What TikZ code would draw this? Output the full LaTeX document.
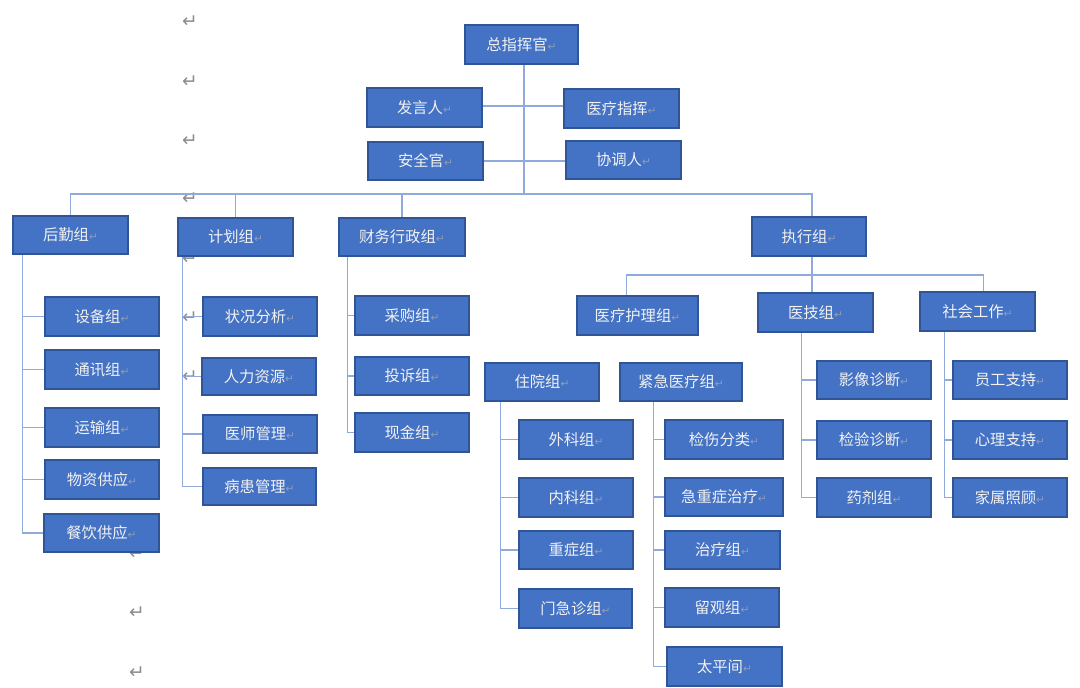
\documentclass[tikz,border=0pt]{standalone}
\usepackage{fontspec}
\newfontfamily\cjk{Noto Sans CJK SC}
\newfontfamily\dvs{DejaVu Sans}
\usetikzlibrary{calc}
\definecolor{boxfill}{HTML}{4472C4}
\definecolor{boxline}{HTML}{2F5597}
\definecolor{conncol}{HTML}{8FAADC}
\definecolor{markgray}{HTML}{8C8C8C}
\definecolor{inmark}{HTML}{8E9DBB}
\pgfdeclarelayer{background}
\pgfsetlayers{background,main}
\newcommand\rt{{\dvs\fontsize{8}{8}\selectfont\textcolor{inmark}{↵}}}
\newcommand\bx[6]{%
  \pgfmathsetmacro\cx{(#2+#4)/2}\pgfmathsetmacro\cy{(#3+#5)/2}%
  \pgfmathsetmacro\ww{(#4-#2)*0.75}\pgfmathsetmacro\hh{(#5-#3)*0.75}%
  \node[orgbox, minimum width=\ww pt, minimum height=\hh pt] (#1) at (\cx,\cy) {#6\rt};}
\tikzset{
  orgbox/.style={draw=boxline, fill=boxfill, line width=1.1pt, text=white!95!black,
    font=\cjk\fontsize{11.5}{12}\selectfont, inner sep=0pt},
  conn/.style={draw=conncol, line width=1.1pt},
  pmark/.style={text=markgray, font=\dvs\fontsize{14}{14}\selectfont, inner sep=0pt}
}
\begin{document}
\begin{tikzpicture}[x=0.75pt,y=-0.75pt]
\useasboundingbox (0,0) rectangle (1080,687);
% boxes
\bx{zhg}{465}{25}{578}{64}{总指挥官}
\bx{fyr}{367}{88}{482}{127}{发言人}
\bx{ylzh}{564}{89}{679}{128}{医疗指挥}
\bx{aqg}{368}{142}{483}{180}{安全官}
\bx{xtr}{566}{141}{681}{179}{协调人}
\bx{hq}{13}{216}{128}{254}{后勤组}
\bx{jh}{178}{218}{293}{256}{计划组}
\bx{cw}{339}{218}{465}{256}{财务行政组}
\bx{zx}{752}{217}{866}{256}{执行组}
\bx{sb}{45}{297}{159}{336}{设备组}
\bx{tx}{45}{350}{159}{389}{通讯组}
\bx{ysz}{45}{408}{159}{447}{运输组}
\bx{wz}{45}{460}{159}{499}{物资供应}
\bx{cy}{44}{514}{159}{552}{餐饮供应}
\bx{zk}{203}{297}{317}{336}{状况分析}
\bx{rl}{202}{358}{316}{395}{人力资源}
\bx{ysg}{203}{415}{317}{453}{医师管理}
\bx{bh}{203}{468}{316}{505}{病患管理}
\bx{cg}{355}{296}{469}{335}{采购组}
\bx{ts}{355}{357}{469}{395}{投诉组}
\bx{xj}{355}{413}{469}{452}{现金组}
\bx{ylhl}{577}{296}{698}{335}{医疗护理组}
\bx{yj}{758}{293}{873}{332}{医技组}
\bx{shgz}{920}{292}{1035}{331}{社会工作}
\bx{zy}{485}{363}{599}{401}{住院组}
\bx{jj}{620}{363}{742}{401}{紧急医疗组}
\bx{wk}{519}{420}{633}{459}{外科组}
\bx{nk}{519}{478}{633}{517}{内科组}
\bx{zz}{519}{531}{633}{569}{重症组}
\bx{mj}{519}{589}{632}{628}{门急诊组}
\bx{jsf}{665}{420}{783}{459}{检伤分类}
\bx{jzz}{665}{478}{783}{516}{急重症治疗}
\bx{zl}{665}{531}{780}{569}{治疗组}
\bx{lg}{665}{588}{779}{627}{留观组}
\bx{tpj}{667}{647}{782}{686}{太平间}
\bx{yx}{817}{361}{931}{399}{影像诊断}
\bx{jy}{817}{421}{931}{459}{检验诊断}
\bx{yjz}{817}{478}{931}{517}{药剂组}
\bx{yg}{953}{361}{1067}{399}{员工支持}
\bx{xl}{953}{421}{1067}{459}{心理支持}
\bx{jszg}{953}{478}{1067}{517}{家属照顾}
\begin{pgfonlayer}{background}
% paragraph marks
\node[pmark] (m1) at (190,22) {↵};
\node[pmark] (m2) at (190,82) {↵};
\node[pmark] (m3) at (190,141) {↵};
\node[pmark] (m4) at (190,199) {↵};
\node[pmark] (m5) at (190,259) {↵};
\node[pmark] (m6) at (190,318) {↵};
\node[pmark] (m7) at (190,377) {↵};
\node[pmark] (m8) at (137,497) {↵};
\node[pmark] (m9) at (137,554) {↵};
\node[pmark] (m10) at (137,613) {↵};
\node[pmark] (m11) at (137,673) {↵};
% top
\coordinate (bus) at (524,194);
\draw[conn] (zhg.south -| bus) -- (bus);
\coordinate (h1) at (524,106);
\coordinate (h2) at (524,161);
\draw[conn] (fyr.east |- h1) -- (ylzh.west |- h1);
\draw[conn] (aqg.east |- h2) -- (xtr.west |- h2);
\coordinate (bus2) at (812,275);
\coordinate (zxtop) at (zx.north -| bus2);
\draw[conn] (hq.north) -- (hq.north |- bus) -- (zxtop |- bus) -- (zxtop);
\draw[conn] (jh.north) -- (jh.north |- bus);
\draw[conn] (cw.north) -- (cw.north |- bus);
% level 2 trunks
\foreach \c in {sb,tx,ysz,wz,cy} \draw[conn] ($(hq.south west)+(10,0)$) |- (\c.west);
\foreach \c in {zk,rl,ysg,bh} \draw[conn] ($(jh.south west)+(5,0)$) |- (\c.west);
\foreach \c in {cg,ts,xj} \draw[conn] ($(cw.south west)+(9,0)$) |- (\c.west);
% execution group
\draw[conn] (zx.south -| bus2) -- (yj.north -| bus2);
\coordinate (hltop) at ($(ylhl.north west)+(50,0)$);
\coordinate (sgtop) at ($(shgz.north west)+(64,0)$);
\draw[conn] (hltop) -- (hltop |- bus2) -- (sgtop |- bus2) -- (sgtop);
\foreach \c in {yx,jy,yjz} \draw[conn] ($(yj.south west)+(44,0)$) |- (\c.west);
\foreach \c in {yg,xl,jszg} \draw[conn] ($(shgz.south west)+(25,0)$) |- (\c.west);
\foreach \c in {wk,nk,zz,mj} \draw[conn] ($(zy.south west)+(16,0)$) |- (\c.west);
\foreach \c in {jsf,jzz,zl,lg,tpj} \draw[conn] ($(jj.south west)+(34,0)$) |- (\c.west);
\end{pgfonlayer}
\end{tikzpicture}
\end{document}
